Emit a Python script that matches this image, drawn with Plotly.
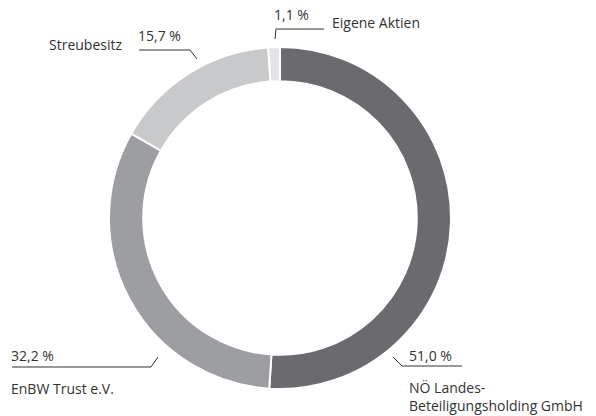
import plotly.graph_objects as go

labels = ["NÖ Landes-<br>Beteiligungsholding GmbH", "EnBW Trust e.V.", "Streubesitz", "Eigene Aktien"]
values = [51.0, 32.2, 15.7, 1.1]
value_labels = ["51,0 %", "32,2 %", "15,7 %", "1,1 %"]
colors = ["#6b6b6f", "#9d9ea1", "#c8c9cb", "#e3e3e5"]

W, H = 596, 416

def px(x):
    return x / W

def py(y):
    return 1 - y / H

cx, cy, r = 280, 218, 171
fig = go.Figure(go.Pie(
    labels=labels, values=values, sort=False, direction="clockwise", rotation=0,
    hole=0.80, marker=dict(colors=colors, line=dict(color="white", width=2)),
    textinfo="none", hoverinfo="label+value", showlegend=False,
    domain=dict(x=[px(cx - r), px(cx + r)], y=[py(cy + r), py(cy - r)]),
))

font = dict(family="Open Sans, Noto Sans, sans-serif", size=14, color="#333333")
line = dict(color="#333333", width=1)

def seg(pts):
    shapes = []
    for (x0, y0), (x1, y1) in zip(pts[:-1], pts[1:]):
        shapes.append(dict(type="line", xref="paper", yref="paper",
                           x0=px(x0), y0=py(y0), x1=px(x1), y1=py(y1), line=line))
    return shapes

shapes = []
shapes += seg([(393, 357), (402, 366), (462, 366)])
shapes += seg([(158, 357), (151, 367), (12, 367)])
shapes += seg([(197, 59), (190, 50), (139, 50)])
shapes += seg([(275, 39), (276, 29), (324, 29)])

def ann(text, x, y, xanchor="left", yanchor="middle", align="left"):
    return dict(text=text, x=px(x), y=py(y), xref="paper", yref="paper",
                xanchor=xanchor, yanchor=yanchor, align=align, showarrow=False, font=font)

annotations = [
    ann(value_labels[0], 407, 355),
    ann(labels[0], 407, 396),
    ann(value_labels[1], 9, 355),
    ann(labels[1], 9, 388),
    ann(value_labels[2], 136, 35),
    ann(labels[2], 47, 45),
    ann(value_labels[3], 272, 15),
    ann(labels[3], 330, 22),
]

fig.update_layout(
    width=W, height=H, margin=dict(l=0, r=0, t=0, b=0),
    paper_bgcolor="white", plot_bgcolor="white",
    shapes=shapes, annotations=annotations,
)

fig.write_html("out.html", config={"displayModeBar": False},
               post_script="document.body.style.margin='0';")
